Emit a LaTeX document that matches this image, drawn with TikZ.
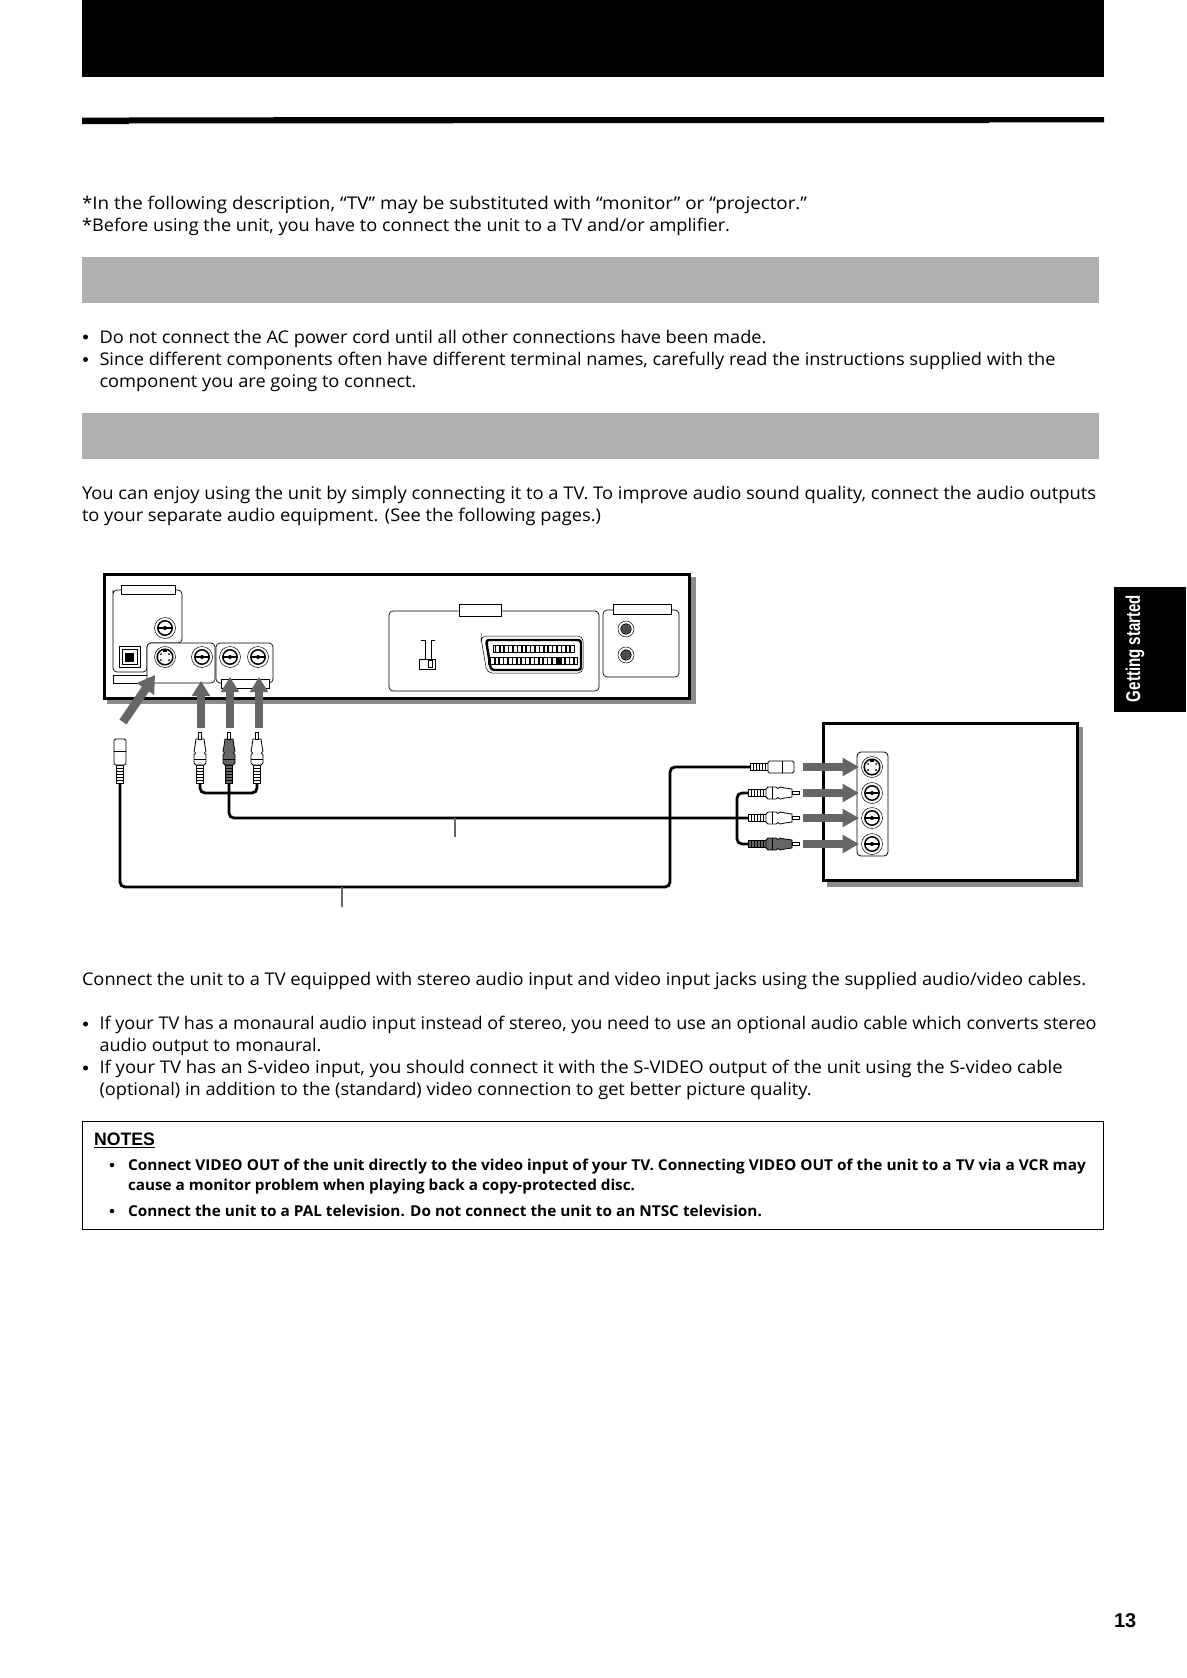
\documentclass[tikz,border=0pt]{standalone}
\usepackage{fontspec}
\usepackage{graphicx}
\setmainfont{Open Sans}
\newfontfamily\hvfont{Liberation Sans}
\usetikzlibrary{arrows.meta}
\definecolor{bandgray}{gray}{0.69}
\definecolor{arrowgray}{gray}{0.40}
\definecolor{shadowgray}{gray}{0.55}
\definecolor{darkplug}{gray}{0.40}
\tikzset{
  x=1pt,y=-1pt,
  every node/.append style={outer sep=0pt},
  line/.style={inner sep=0pt,anchor=base west,font=\fontsize{17.5}{22}\selectfont},
  noteline/.style={inner sep=0pt,anchor=base west,font=\fontsize{15}{19}\selectfont\bfseries},
  bulletnode/.style={circle,fill=black,inner sep=0pt,minimum size=5pt},
  panelbox/.style={draw=black,line width=0.7pt,rounded corners=4pt,fill=white},
  labelbox/.style={draw=black,line width=0.9pt,fill=white},
  uparrow/.style={draw=arrowgray,line width=7.6pt,-{Triangle[length=15pt,width=17.5pt]}},
  diagarrow/.style={draw=arrowgray,line width=8.6pt,-{Triangle[length=17pt,width=20pt]}},
  rightarrow/.style={draw=arrowgray,line width=8.6pt,-{Triangle[length=16.5pt,width=17.5pt]}},
  cable/.style={draw=black,line width=2.8pt,rounded corners=5pt},
  leader/.style={draw=arrowgray,line width=1.6pt},
  unitbox/.style={draw=black,line width=3pt,fill=white},
  jackbase/.style={circle,draw=black,line width=0.5pt,fill=white,minimum size=21pt,inner sep=0pt},
}
% fit a line of text to a width measured on the reference
\newcommand{\fitline}[6]{\node[#1] (#2) at (#3,#4) {\resizebox{#5pt}{\height}{#6}};}
% RCA jack
\newcommand{\rcajack}[3]{%
  \node[jackbase] (#1) at (#2,#3) {};
  \draw[line width=1.5pt,fill=white] (#2,#3) circle (7.2);
  \draw[line width=1.3pt] (#2-7,#3) -- (#2+7,#3);
  \fill (#2,#3) circle (2);
}
% S-video jack
\newcommand{\svideojack}[3]{%
  \node[jackbase] (#1) at (#2,#3) {};
  \draw[line width=1.5pt,fill=white] (#2,#3) circle (7.8);
  \fill (#2-4,#3-3) circle (1);\fill (#2+4,#3-3) circle (1);
  \fill (#2-4,#3+3) circle (1);\fill (#2+4,#3+3) circle (1);
  \fill (#2-2,#3-7) rectangle (#2+2,#3-5);
}
% RCA plug: local x runs from the cable end to the tip
\newcommand{\rcaplug}[5]{%
  \begin{scope}[shift={(#1,#2)},rotate=#3,line width=0.8pt]
    \draw[fill=#4] (0,-3.5) rectangle (18,3.5);
    \foreach \k in {3,6,9,12,15} \draw (\k,-3.5) -- (\k,3.5);
    \draw[fill=#4] (18,-4) -- (20,-6) -- (28,-6) -- (30,-4.5) -- (32,-6) -- (37,-5) -- (44,-4) -- (44,4) -- (37,5) -- (32,6) -- (30,4.5) -- (28,6) -- (20,6) -- (18,4) -- cycle;
    \draw (24,-6) -- (24,6);
    \draw[fill=white] (44,-1.8) rectangle (51,1.8);
    \coordinate (#5) at (0,0);
  \end{scope}}
% S-video plug
\newcommand{\splug}[4]{%
  \begin{scope}[shift={(#1,#2)},rotate=#3,line width=0.8pt]
    \draw[fill=white] (0,-3.5) rectangle (18,3.5);
    \foreach \k in {3,6,9,12,15} \draw (\k,-3.5) -- (\k,3.5);
    \draw[fill=white,rounded corners=1.5pt] (18,-6) rectangle (44,6);
    \draw (32,-6) -- (32,6);
    \coordinate (#4) at (0,0);
  \end{scope}}
\begin{document}
\begin{tikzpicture}
\useasboundingbox (0,0) rectangle (1186,1678);
\fill[white] (0,0) rectangle (1186,1678);
% header
\fill[black] (82,0) rectangle (1104,77);
\fill[black] (82,117.7) -- (129,117.7) -- (129,117.3) -- (989,117) -- (1104,117) -- (1104,122.4) -- (989,122.4) -- (989,123) -- (129,123.4) -- (129,124) -- (82,124) -- cycle;
\fitline{line}{t1}{82}{209.7}{725}{*In the following description, “TV” may be substituted with “monitor” or “projector.”}
\fitline{line}{t2}{82}{231.2}{648}{*Before using the unit, you have to connect the unit to a TV and/or amplifier.}
\fill[bandgray] (82,257) rectangle (1099,303);
\node[bulletnode] (b1) at (85.5,337) {};
\fitline{line}{t3}{99.5}{343.5}{667}{Do not connect the AC power cord until all other connections have been made.}
\node[bulletnode] (b2) at (85.5,359.5) {};
\fitline{line}{t4}{99.5}{365}{956}{Since different components often have different terminal names, carefully read the instructions supplied with the}
\fitline{line}{t5}{99.5}{387.5}{317}{component you are going to connect.}
\fill[bandgray] (82,413) rectangle (1099,459);
\fitline{line}{t6}{82}{499.8}{1014}{You can enjoy using the unit by simply connecting it to a TV.  To improve audio sound quality, connect the audio outputs}
\fitline{line}{t7}{82}{521.3}{519}{to your separate audio equipment. (See the following pages.)}

% unit rear panel
\fill[shadowgray] (107,577) rectangle (695.5,703.5);
\node[unitbox,minimum width=585pt,minimum height=124.5pt,anchor=north west,inner sep=0pt] (unit) at (104.5,574) {};
\draw[panelbox] (113,594) -- (113,672) -- (147,672) -- (147,643) -- (182,643) -- (182,590) -- (113,590) -- cycle;
\node[labelbox,anchor=north west,minimum width=54pt,minimum height=9pt,inner sep=0pt] (lab1) at (121,585.5) {};
\rcajack{coax}{165}{628}
\node[draw=black,line width=1pt,fill=white,minimum size=21pt,inner sep=0pt] (opt) at (129.5,657) {};
\node[draw=black,line width=1pt,fill=white,minimum size=15pt,inner sep=0pt] (opti) at (129.5,657) {};
\fill[black] (125,652.5) rectangle (134,661.5);
\node[labelbox,anchor=north west,minimum width=36pt,minimum height=8pt,inner sep=0pt] (lab2) at (113,675) {};
\draw[panelbox] (147,643) rectangle (215,683);
\draw[panelbox] (216,643) rectangle (273,683);
\node[labelbox,anchor=north west,minimum width=48pt,minimum height=9pt,inner sep=0pt] (lab3) at (221,679) {};
\svideojack{jsv}{165}{657}
\rcajack{jvid}{202}{657}
\rcajack{jl}{230}{657}
\rcajack{jr}{258}{657}
% scart panel
\draw[panelbox] (389,611) rectangle (599,691);
\node[labelbox,anchor=north west,minimum width=42pt,minimum height=12pt,inner sep=0pt,line width=1.1pt] (lab4) at (459.5,604.5) {};
\draw[line width=1pt] (421,640) -- (425,640) -- (425,659);
\draw[line width=1pt] (431,659) -- (431,640) -- (435,640);
\node[draw=black,line width=0.8pt,fill=white,minimum width=16pt,minimum height=10pt,inner sep=0pt] (sw) at (427.5,664) {};
\node[draw=black,line width=0.8pt,fill=white,minimum width=4.5pt,minimum height=7pt,inner sep=0pt] (swk) at (430.5,664) {};
\draw[line width=0.5pt,rounded corners=5pt] (481,638) -- (487,673) -- (583,673) -- (583,636) -- (481,636) -- cycle;
\draw[line width=2.4pt,rounded corners=3pt,fill=white] (486,640) -- (491,670) -- (581,670) -- (581,640) -- cycle;
\draw[line width=0.7pt] (493,645) rectangle (574,652);
\foreach \k in {0,1,...,18} \fill (494.5+\k*4.4,645) rectangle (496.2+\k*4.4,652);
\draw[line width=0.7pt] (488,657) rectangle (577,664);
\foreach \k in {0,1,...,19} \fill (489.5+\k*4.4,657) rectangle (491.2+\k*4.4,664);
\fill (557,657) rectangle (560,664);
% right panel
\draw[panelbox] (603,610) rectangle (679,677);
\node[labelbox,anchor=north west,minimum width=58pt,minimum height=10pt,inner sep=0pt] (lab5) at (613.5,604.5) {};
\foreach \nm/\yy in {sa/629,sb/655}{
  \node[circle,draw=black,line width=0.5pt,fill=white,minimum size=16pt,inner sep=0pt] (\nm) at (626,\yy) {};
  \fill[black!70] (626,\yy) circle (4.5);
  \draw[line width=1pt] (626,\yy) circle (5.2);
}

% TV
\fill[shadowgray] (827,727) rectangle (1083,886.5);
\node[unitbox,minimum width=254.5pt,minimum height=157pt,anchor=north west,inner sep=0pt] (tv) at (823.2,723.5) {};
\draw[panelbox,line width=0.8pt] (857,752) rectangle (888,856);
\svideojack{tvs}{872}{767}
\rcajack{tva}{872}{793}
\rcajack{tvb}{872}{818}
\rcajack{tvc}{872}{844}

% plugs at the unit
\splug{120}{783}{90}{ps}
\rcaplug{200}{783}{90}{white}{pv}
\rcaplug{229}{783}{90}{darkplug}{pl}
\rcaplug{257}{783}{90}{white}{pr}
% plugs at the TV
\splug{750}{767}{0}{qs}
\rcaplug{748}{793}{0}{white}{qa}
\rcaplug{748}{818}{0}{white}{qb}
\rcaplug{748}{844}{0}{darkplug}{qc}

% cables
\draw[cable] (ps) -- (120,887) -- (670,887) -- (670,767) -- (qs);
\draw[cable] (pv) -- (200,793) -- (257,793) -- (pr);
\draw[cable] (pl) -- (229,818) -- (qb);
\draw[cable] (qa) -- (737,793) -- (737,844) -- (qc);
\coordinate (leadAtop) at (455,818);
\coordinate (leadAend) at (455,837);
\coordinate (leadBtop) at (342,887);
\coordinate (leadBend) at (342,907);
\draw[leader] (leadAtop) -- (leadAend);
\draw[leader] (leadBtop) -- (leadBend);

% grey arrows
\coordinate (a0s) at (123,722);\coordinate (a1s) at (155,675);
\coordinate (a0v) at (201,728);\coordinate (a1v) at (201,681);
\coordinate (a0l) at (230,728);\coordinate (a1l) at (230,677);
\coordinate (a0r) at (259,728);\coordinate (a1r) at (259,677);
\draw[diagarrow] (a0s) -- (a1s);
\draw[uparrow] (a0v) -- (a1v);
\draw[uparrow] (a0l) -- (a1l);
\draw[uparrow] (a0r) -- (a1r);
\foreach \nm/\yy in {s/767,a/793,b/818,c/844}{
  \coordinate (r0\nm) at (803,\yy);
  \coordinate (r1\nm) at (859,\yy);
  \draw[rightarrow] (r0\nm) -- (r1\nm);
}

% lower text
\fitline{line}{t8}{82}{985.8}{1004}{Connect the unit to a TV equipped with stereo audio input and video input jacks using the supplied audio/video cables.}
\node[bulletnode] (b3) at (85.5,1024) {};
\fitline{line}{t9}{99.5}{1029.7}{997}{If your TV has a monaural audio input instead of stereo, you need to use an optional audio cable which converts stereo}
\fitline{line}{t10}{99.5}{1051.7}{222}{audio output to monaural.}
\node[bulletnode] (b4) at (85.5,1068) {};
\fitline{line}{t11}{99.5}{1073.6}{963}{If your TV has an S-video input, you should connect it with the S-VIDEO output of the unit using the S-video cable}
\fitline{line}{t12}{99.5}{1095.8}{712}{(optional) in addition to the (standard) video connection to get better picture quality.}

% notes
\node[draw=black,line width=0.8pt,minimum width=1021pt,minimum height=108pt,inner sep=0pt,anchor=north west] (notes) at (82,1121) {};
\node[inner sep=0pt,anchor=base west] (nt) at (94,1145) {\resizebox{61pt}{\height}{\hvfont\bfseries\fontsize{18}{20}\selectfont NOTES}};
\draw[line width=1.1pt] (94,1147.5) -- (155,1147.5);
\node[bulletnode,minimum size=4.5pt] (n1) at (112,1165) {};
\fitline{noteline}{t13}{128}{1170}{958}{Connect VIDEO OUT of the unit directly to the video input of your TV. Connecting VIDEO OUT of the unit to a TV via a VCR may}
\fitline{noteline}{t14}{128}{1190}{507}{cause a monitor problem when playing back a copy-protected disc.}
\node[bulletnode,minimum size=4.5pt] (n2) at (112,1211) {};
\fitline{noteline}{t15}{128}{1216.5}{634}{Connect the unit to a PAL television. Do not connect the unit to an NTSC television.}

% side tab
\fill[black] (1114,587) rectangle (1186,712);
\node[inner sep=0pt,anchor=base west,rotate=90,text=white] (tab) at (1140,702) {\resizebox{107pt}{\height}{\hvfont\bfseries\fontsize{20}{22}\selectfont Getting started}};
% page number
\node[inner sep=0pt,anchor=base west] (pg) at (1114,1627) {\hvfont\bfseries\fontsize{20}{22}\selectfont 13};
\end{tikzpicture}
\end{document}
